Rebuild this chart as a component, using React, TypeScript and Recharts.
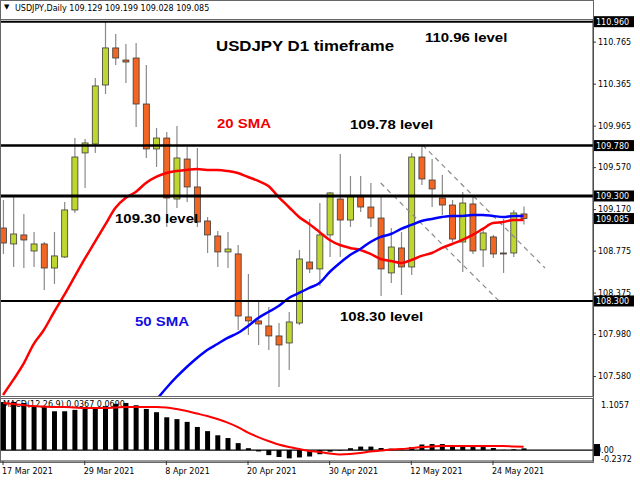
import React from "react";
import {
  ComposedChart,
  Bar,
  Line,
  XAxis,
  YAxis,
  ReferenceLine,
} from "recharts";

// daily bars, 17 Mar 2021 .. 27 May 2021
const dates = [
  "17 Mar 2021", "18 Mar 2021", "19 Mar 2021", "22 Mar 2021", "23 Mar 2021",
  "24 Mar 2021", "25 Mar 2021", "26 Mar 2021", "29 Mar 2021", "30 Mar 2021",
  "31 Mar 2021", "1 Apr 2021", "2 Apr 2021", "5 Apr 2021", "6 Apr 2021",
  "7 Apr 2021", "8 Apr 2021", "9 Apr 2021", "12 Apr 2021", "13 Apr 2021",
  "14 Apr 2021", "15 Apr 2021", "16 Apr 2021", "19 Apr 2021", "20 Apr 2021",
  "21 Apr 2021", "22 Apr 2021", "23 Apr 2021", "26 Apr 2021", "27 Apr 2021",
  "28 Apr 2021", "29 Apr 2021", "30 Apr 2021", "3 May 2021", "4 May 2021",
  "5 May 2021", "6 May 2021", "7 May 2021", "10 May 2021", "11 May 2021",
  "12 May 2021", "13 May 2021", "14 May 2021", "17 May 2021", "18 May 2021",
  "19 May 2021", "20 May 2021", "21 May 2021", "24 May 2021", "25 May 2021",
  "26 May 2021", "27 May 2021",
];

const open = [
  108.995, 108.843, 108.929, 108.776, 108.843, 108.614, 108.719, 109.167, 109.71, 109.795,
  110.357, 110.71, 110.595, 110.614, 110.176, 109.748, 109.852, 109.271, 109.652, 109.386,
  109.062, 108.919, 108.767, 108.748, 108.148, 108.11, 108.062, 107.967, 107.9, 108.09,
  108.671, 108.605, 108.929, 109.271, 109.071, 109.3, 109.195, 109.09, 108.567, 108.805,
  108.624, 109.671, 109.452, 109.281, 109.214, 108.862, 109.224, 108.786, 108.91, 108.757,
  108.757, 109.129,
];
const high = [
  109.262, 109.31, 109.129, 108.957, 108.862, 108.957, 109.243, 109.852, 109.843, 110.424,
  110.96, 110.843, 110.748, 110.757, 110.548, 109.948, 109.91, 109.967, 109.767, 109.757,
  109.1, 108.967, 108.957, 108.833, 108.557, 108.29, 108.243, 108.09, 108.195, 108.786,
  109.081, 109.233, 109.338, 109.7, 109.49, 109.49, 109.424, 109.3, 108.995, 108.957,
  109.71, 109.786, 109.652, 109.5, 109.262, 109.338, 109.29, 108.995, 108.929, 109.081,
  109.167, 109.199,
];
const low = [
  108.748, 108.624, 108.614, 108.624, 108.405, 108.462, 108.71, 109.138, 109.376, 109.71,
  110.271, 110.548, 110.376, 109.957, 109.662, 109.576, 109.005, 109.186, 109.243, 109.005,
  108.757, 108.624, 108.614, 108.024, 107.976, 107.881, 107.833, 107.481, 107.643, 108.071,
  108.567, 108.443, 108.719, 108.719, 109.005, 109.148, 109.005, 108.348, 108.471, 108.357,
  108.548, 109.405, 109.195, 109.119, 108.862, 108.576, 108.748, 108.624, 108.71, 108.567,
  108.719, 109.028,
];
const close = [
  108.852, 108.938, 108.881, 108.843, 108.614, 108.729, 109.167, 109.671, 109.805, 110.348,
  110.71, 110.614, 110.576, 110.176, 109.748, 109.852, 109.281, 109.662, 109.386, 109.052,
  108.929, 108.767, 108.795, 108.157, 108.11, 108.081, 107.967, 107.881, 108.1, 108.7,
  108.605, 108.929, 109.329, 109.071, 109.3, 109.195, 109.09, 108.605, 108.814, 108.624,
  109.671, 109.462, 109.367, 109.214, 108.89, 109.233, 108.776, 108.948, 108.748, 108.752,
  109.138, 109.085,
];

const sma20 = [
  107.405, 107.548, 107.7, 107.89, 108.024, 108.195, 108.357, 108.529, 108.7, 108.862,
  109.024, 109.186, 109.281, 109.338, 109.424, 109.481, 109.519, 109.538, 109.548, 109.557,
  109.548, 109.548, 109.538, 109.519, 109.481, 109.443, 109.395, 109.29, 109.195, 109.1,
  109.033, 108.957, 108.881, 108.833, 108.805, 108.786, 108.748, 108.7, 108.681, 108.662,
  108.69, 108.729, 108.757, 108.805, 108.843, 108.881, 108.929, 108.986, 109.043, 109.052,
  109.071, 109.071,
];
const sma50 = [
  null, null, null, null, null, null, null, null, null, null,
  null, null, null, null, 107.245, 107.357, 107.471, 107.576, 107.671, 107.757,
  107.833, 107.89, 107.948, 107.995, 108.062, 108.138, 108.195, 108.252, 108.329, 108.376,
  108.424, 108.471, 108.576, 108.662, 108.738, 108.795, 108.862, 108.91, 108.938, 108.986,
  109.024, 109.062, 109.081, 109.1, 109.11, 109.11, 109.119, 109.119, 109.11, 109.1,
  109.11, 109.11,
];

const macdHist = [
  1.04, 1.04, 1.02, 0.95, 0.93, 0.84, 0.84, 0.87, 0.89, 0.93,
  0.95, 1.0, 1.02, 0.97, 0.89, 0.82, 0.71, 0.67, 0.61, 0.5,
  0.41, 0.32, 0.26, 0.15, 0.04, -0.03, -0.11, -0.15, -0.18, -0.16,
  -0.14, -0.09, -0.035, -0.01, 0.04, 0.075, 0.075, 0.045, 0.03, 0.02,
  0.065, 0.12, 0.13, 0.13, 0.09, 0.075, 0.065, 0.065, 0.045, 0.005,
  0.02, 0.0367,
];
const macdSignal = [
  1.017, 0.996, 0.974, 0.952, 0.942, 0.931, 0.931, 0.92, 0.909, 0.909,
  0.909, 0.92, 0.931, 0.931, 0.931, 0.931, 0.92, 0.887, 0.844, 0.79,
  0.736, 0.671, 0.595, 0.498, 0.379, 0.281, 0.195, 0.119, 0.065, 0.022,
  -0.022, -0.043, -0.076, -0.097, -0.087, -0.065, -0.032, -0.011, 0.011, 0.022,
  0.043, 0.065, 0.076, 0.087, 0.087, 0.087, 0.087, 0.087, 0.087, 0.087,
  0.076, 0.069,
];

const levels = [110.96, 109.78, 109.3, 108.3];
const levelWidths = [2, 2.5, 3, 2];
const lastPrice = 109.085;
const priceTicks = [110.765, 110.365, 109.965, 109.57, 109.17, 108.775, 108.375, 107.98, 107.58];
const dateTicks = [0, 8, 16, 24, 32, 40, 48];
const macdRange = [-0.2372, 1.1057];

// descending channel drawn over May (bar index, price)
const channel = [
  [{ x: 41.1, y: 109.786 }, { x: 53.1, y: 108.614 }],
  [{ x: 37.0, y: 109.424 }, { x: 48.7, y: 108.29 }],
];

const X_DOMAIN = [-0.2, 57.8];
const P_DOMAIN = [107.395, 110.976];
const SMALL = "'DejaVu Sans', Tahoma, sans-serif";
const BOLD = "'Liberation Sans', Arial, sans-serif";
const GREEN = "#bfd630";
const ORANGE = "#f26522";

const rows = dates.map((date, i) => ({
  i,
  date,
  range: [low[i], high[i]],
  open: open[i],
  high: high[i],
  low: low[i],
  close: close[i],
  sma20: sma20[i],
  sma50: sma50[i],
  hist: macdHist[i],
  signal: macdSignal[i],
}));

const notes = [
  { text: "USDJPY D1 timeframe", x: 216, y: 47, color: "#000", size: 14, sx: 1.2 },
  { text: "110.96 level", x: 425, y: 38, color: "#000", size: 13, sx: 1.15 },
  { text: "20 SMA", x: 217, y: 124, color: "#ee0000", size: 13, sx: 1.15 },
  { text: "109.78 level", x: 350, y: 125, color: "#000", size: 13, sx: 1.15 },
  { text: "109.30 level", x: 115, y: 219, color: "#000", size: 13, sx: 1.15 },
  { text: "50 SMA", x: 135, y: 322, color: "#1010e0", size: 13, sx: 1.15 },
  { text: "108.30 level", x: 340, y: 317, color: "#000", size: 13, sx: 1.15 },
];

// body + wick, the bar itself spans low..high
const renderCandle = (props: any) => {
  const { x, y, width, height } = props;
  const d = props.payload || props;
  const k = height / (d.high - d.low);
  const top = y + (d.high - Math.max(d.open, d.close)) * k;
  const bot = y + (d.high - Math.min(d.open, d.close)) * k;
  const cx = x + width / 2;
  return (
    <g>
      <line x1={cx} x2={cx} y1={y} y2={y + height} stroke="#8a8a8a" strokeWidth={1.2} />
      <rect
        x={x + 0.5}
        y={top}
        width={width - 1}
        height={Math.max(bot - top, 1)}
        fill={d.close >= d.open ? GREEN : ORANGE}
        stroke="#3c3c3c"
        strokeWidth={0.8}
      />
    </g>
  );
};

const priceTag = (value: number) => (props: any) => {
  const vb = props.viewBox;
  if (!vb) return null;
  const right = vb.x + vb.width;
  return (
    <g>
      <rect x={right + 1} y={vb.y - 5.5} width={40} height={11} fill="#000" />
      <text x={right + 3} y={vb.y + 3} fill="#fff" fontSize={8} fontFamily={SMALL}>
        {value.toFixed(3)}
      </text>
    </g>
  );
};

const zeroTag = (props: any) => {
  const vb = props.viewBox;
  if (!vb) return null;
  const right = vb.x + vb.width;
  return (
    <g>
      <rect x={right + 1} y={vb.y - 6} width={6} height={12} fill="#000" />
      <text x={right + 3} y={vb.y + 3} fill="#000" fontSize={8} fontFamily={SMALL}>
        0.00
      </text>
    </g>
  );
};

const DateTick = ({ x, y, payload }: any) => (
  <text x={x - 1} y={y} dy={7} textAnchor="start" fontSize={8} fill="#000" fontFamily={SMALL}>
    {dates[payload.value]}
  </text>
);

const MacdTick = ({ x, y, payload }: any) => (
  <text x={x} y={payload.value > 0 ? y + 9 : y + 1} fontSize={8} fill="#000" fontFamily={SMALL}>
    {payload.value.toFixed(4)}
  </text>
);

const hline = (top: number, color = "#666"): React.CSSProperties => ({
  position: "absolute",
  left: 0,
  top,
  width: 594,
  height: 1,
  background: color,
});

export default function App() {
  return (
    <div
      style={{
        position: "fixed",
        top: 0,
        left: 0,
        width: 640,
        height: 480,
        background: "#fff",
        overflow: "hidden",
      }}
    >
      <div style={{ position: "absolute", left: 0, top: 0, width: 594, height: 463, boxSizing: "border-box", border: "1px solid #666" }} />
      <div style={hline(19)} />
      <div style={hline(396)} />
      <div style={hline(398)} />
      <div style={{ position: "absolute", left: 4, top: 3, fontSize: 7, fontFamily: SMALL, color: "#000" }}>▼</div>
      <div style={{ position: "absolute", left: 15, top: 4, fontSize: 8, lineHeight: "10px", fontFamily: SMALL, color: "#000", whiteSpace: "nowrap" }}>
        USDJPY,Daily 109.129 109.199 109.028 109.085
      </div>
      <div style={{ position: "absolute", left: 3, top: 400, fontSize: 8, lineHeight: "10px", fontFamily: SMALL, color: "#000", whiteSpace: "nowrap" }}>
        MACD(12,26,9) 0.0367 0.0690
      </div>

      <div style={{ position: "absolute", left: 0, top: 0 }}>
        <ComposedChart width={640} height={399} data={rows} margin={{ top: 20, right: 0, bottom: 3, left: 1 }}>
          <XAxis dataKey="i" type="number" domain={X_DOMAIN} allowDataOverflow hide />
          <YAxis
            orientation="right"
            type="number"
            domain={P_DOMAIN}
            allowDataOverflow
            ticks={priceTicks}
            interval={0}
            width={47}
            tickSize={3}
            tickFormatter={(v: number) => v.toFixed(3)}
            axisLine={{ stroke: "#333" }}
            tickLine={{ stroke: "#333" }}
            tick={{ fontSize: 8, fill: "#000", fontFamily: SMALL }}
          />
          {channel.map((seg, k) => (
            <ReferenceLine key={"ch" + k} segment={seg} stroke="#8a8a8a" strokeWidth={1.2} strokeDasharray="5 4" />
          ))}
          <Bar dataKey="range" barSize={7} shape={renderCandle} isAnimationActive={false} />
          <Line dataKey="sma20" type="monotone" stroke="#ff0000" strokeWidth={2.5} dot={false} isAnimationActive={false} />
          <Line dataKey="sma50" type="monotone" stroke="#0000ff" strokeWidth={2.5} dot={false} isAnimationActive={false} />
          {levels.map((v, k) => (
            <ReferenceLine key={"lv" + k} y={v} stroke="#000" strokeWidth={levelWidths[k]} label={priceTag(v)} />
          ))}
          <ReferenceLine y={lastPrice} stroke="none" label={priceTag(lastPrice)} />
        </ComposedChart>
      </div>

      <div style={{ position: "absolute", left: 0, top: 396 }}>
        <ComposedChart width={640} height={84} data={rows} margin={{ top: 3, right: 0, bottom: 0, left: 1 }}>
          <XAxis
            dataKey="i"
            type="number"
            domain={X_DOMAIN}
            allowDataOverflow
            ticks={dateTicks}
            interval={0}
            height={19}
            tickSize={4}
            axisLine={{ stroke: "#333" }}
            tickLine={{ stroke: "#333" }}
            tick={<DateTick />}
          />
          <YAxis
            orientation="right"
            type="number"
            domain={macdRange}
            allowDataOverflow
            ticks={macdRange}
            interval={0}
            width={47}
            tickLine={false}
            axisLine={{ stroke: "#333" }}
            tick={<MacdTick />}
          />
          <ReferenceLine y={0} stroke="#000" strokeWidth={1.3} label={zeroTag} />
          <Bar dataKey="hist" fill="#000" barSize={5} isAnimationActive={false} />
          <Line dataKey="signal" type="monotone" stroke="#ff0000" strokeWidth={2} dot={false} isAnimationActive={false} />
        </ComposedChart>
      </div>

      {notes.map((n) => (
        <div
          key={n.text}
          style={{
            position: "absolute",
            left: n.x,
            top: n.y - n.size * 0.55,
            fontFamily: BOLD,
            fontWeight: "bold",
            fontSize: n.size,
            lineHeight: 1,
            color: n.color,
            whiteSpace: "nowrap",
            transform: `scaleX(${n.sx})`,
            transformOrigin: "left center",
          }}
        >
          {n.text}
        </div>
      ))}
    </div>
  );
}
